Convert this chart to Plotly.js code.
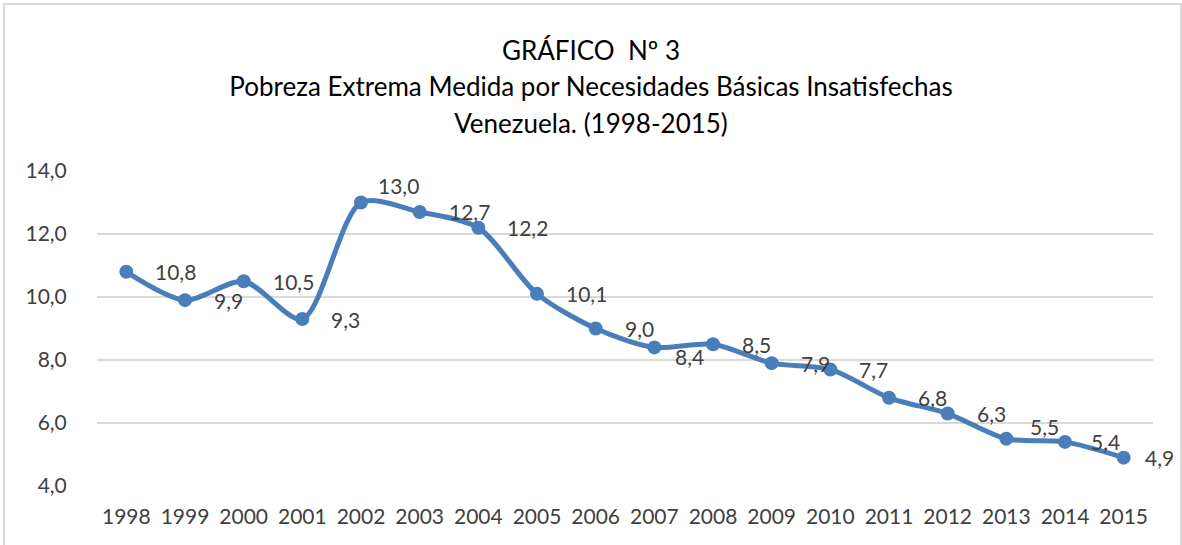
<!DOCTYPE html>
<html>
<head>
<meta charset="utf-8">
<script src="https://cdn.plot.ly/plotly-3.0.1.min.js"></script>
<style>
  html, body { margin: 0; padding: 0; background: #fff; }
  #wrap { position: relative; width: 1182px; height: 545px; overflow: hidden; }
  #chart { position: absolute; left: 0; top: 0; width: 1182px; height: 545px; }
  #frame { position: absolute; left: 3px; top: 3px; width: 1175px; height: 560px;
           border: 2px solid #d9d9d9; pointer-events: none; }
</style>
</head>
<body>
<div id="wrap">
  <div id="chart"></div>
  <div id="frame"></div>
</div>
<script>
// ---- Data ----
const years = ["1998","1999","2000","2001","2002","2003","2004","2005","2006",
               "2007","2008","2009","2010","2011","2012","2013","2014","2015"];
const values = [10.8, 9.9, 10.5, 9.3, 13.0, 12.7, 12.2, 10.1, 9.0,
                8.4, 8.5, 7.9, 7.7, 6.8, 6.3, 5.5, 5.4, 4.9];
const titleLines = ["GRÁFICO  Nº 3",
                    "Pobreza Extrema Medida por Necesidades Básicas Insatisfechas",
                    "Venezuela. (1998-2015)"];
const yTickVals = [4, 6, 8, 10, 12, 14];

// ---- Styles ----
const lineColor = "#4a7ebb";
const textColor = "#404040";
const fontFam = "Lato, 'Open Sans', sans-serif";
const fmt = v => v.toFixed(1).replace(".", ",");

const trace = {
  type: "scatter",
  mode: "lines+markers",
  x: years,
  y: values,
  line: { color: lineColor, width: 5, shape: "spline", smoothing: 0.8 },
  marker: { color: lineColor, size: 14 },
  hoverinfo: "x+y"
};

// label nudges (style only)
const nudge = {
  "2002": { dx: -12, dy: 17 },
  "2007": { dx: -8, dy: -9 },
  "2013": { dx: -5, dy: 12 },
  "2014": { dx: -3, dy: 0 },
  "2015": { dx: -8, dy: 0 }
};

const annotations = years.map((yr, i) => {
  const n = nudge[yr] || { dx: 0, dy: 0 };
  return {
    x: i, y: values[i], xref: "x", yref: "y",
    text: fmt(values[i]),
    showarrow: false,
    xanchor: "left", yanchor: "middle",
    xshift: 27 + n.dx, yshift: n.dy,
    font: { family: fontFam, size: 21, color: textColor }
  };
});

const layout = {
  width: 1182, height: 545,
  margin: { l: 97, r: 29, t: 171, b: 59 },
  paper_bgcolor: "#fff",
  plot_bgcolor: "#fff",
  showlegend: false,
  title: {
    text: titleLines.map(t => '<span style="font-size:26px">' + t + '</span>').join("<br>"),
    font: { family: fontFam, size: 28, color: "#000" },
    x: 0.5, xanchor: "center",
    y: 0.89, yanchor: "top", yref: "container"
  },
  xaxis: {
    type: "category",
    range: [-0.5, years.length - 0.5],
    showgrid: false, zeroline: false, showline: false,
    ticks: "outside", ticklen: 12, tickcolor: "rgba(0,0,0,0)",
    tickfont: { family: fontFam, size: 21, color: textColor },
    fixedrange: true
  },
  yaxis: {
    range: [4, 14],
    tickvals: yTickVals,
    tickformat: ".1f",
    showgrid: true, gridcolor: "#d9d9d9", gridwidth: 2,
    zeroline: false, showline: false,
    ticks: "outside", ticklen: 25, tickcolor: "rgba(0,0,0,0)",
    tickfont: { family: fontFam, size: 21, color: textColor },
    fixedrange: true
  },
  separators: ",.",
  annotations: annotations
};

Plotly.newPlot("chart", [trace], layout, { displayModeBar: false, staticPlot: true });
</script>
</body>
</html>
